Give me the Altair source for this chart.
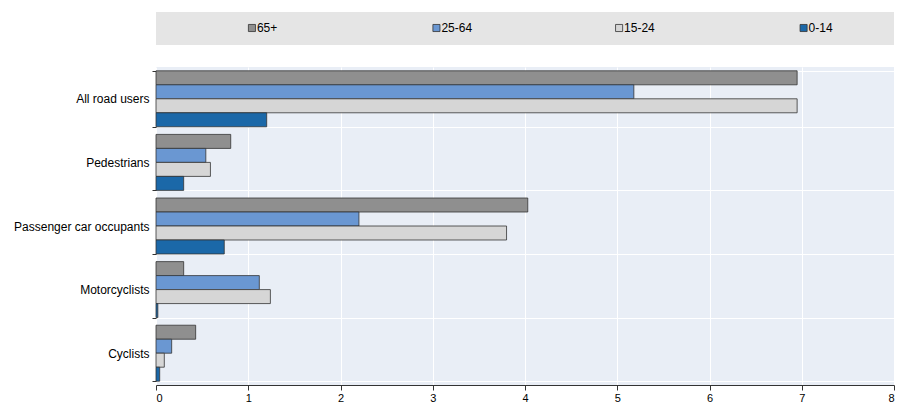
import pandas as pd
import altair as alt

categories = ["All road users", "Pedestrians", "Passenger car occupants", "Motorcyclists", "Cyclists"]
age_groups = ["65+", "25-64", "15-24", "0-14"]
colors = ["#8f8f8f", "#6a97d2", "#d6d6d6", "#1b68a8"]

v_65 = [6.95, 0.81, 4.03, 0.30, 0.43]
v_25_64 = [5.18, 0.54, 2.20, 1.12, 0.17]
v_15_24 = [6.95, 0.59, 3.80, 1.24, 0.09]
v_0_14 = [1.20, 0.30, 0.74, 0.02, 0.04]

rows = []
for grp, vals in zip(age_groups, [v_65, v_25_64, v_15_24, v_0_14]):
    for c, v in zip(categories, vals):
        rows.append({"category": c, "age": grp, "value": v})
df = pd.DataFrame(rows)

FONT = "Liberation Sans"
W = 738

bars = alt.Chart(df).mark_bar(stroke="#333333", strokeWidth=0.8).encode(
    y=alt.Y("category:N", sort=categories, title=None,
            scale=alt.Scale(paddingInner=0.12, paddingOuter=0.06),
            axis=alt.Axis(tickBand="extent", grid=True, gridColor="white",
                          labelFontSize=12, labelColor="#000", domain=False,
                          tickColor="#333", tickSize=4, labelPadding=3, labelLimit=200)),
    yOffset=alt.YOffset("age:N", sort=age_groups),
    x=alt.X("value:Q", title=None, scale=alt.Scale(domain=[0, 8]),
            axis=alt.Axis(values=list(range(9)), grid=True, gridColor="white",
                          labelFontSize=11, labelColor="#000",
                          domainColor="#333", tickColor="#333")),
    color=alt.Color("age:N", scale=alt.Scale(domain=age_groups, range=colors), legend=None),
).properties(width=W, height=318, view=alt.ViewBackground(fill="#e9eef6", stroke=None))

leg_df = pd.DataFrame({"age": age_groups, "pos": [0.52, 1.52, 2.51, 3.51]})
leg_base = alt.Chart(leg_df).encode(
    x=alt.X("pos:Q", scale=alt.Scale(domain=[0, 4]), axis=None),
    y=alt.value(16),
)
leg = alt.layer(
    leg_base.mark_square(size=50, stroke="#333", strokeWidth=0.8, opacity=1).encode(
        color=alt.Color("age:N", scale=alt.Scale(domain=age_groups, range=colors), legend=None)),
    leg_base.mark_text(align="left", dx=5, fontSize=12, font=FONT, color="#000").encode(text="age:N"),
).properties(width=W, height=33, view=alt.ViewBackground(fill="#e5e5e5", stroke=None))

chart = alt.vconcat(leg, bars, spacing=16).configure(font=FONT).properties(
    padding={"left": 5, "top": 4, "right": 5, "bottom": 2})

chart.save("out.html", embed_options={"renderer": "svg", "actions": False})
